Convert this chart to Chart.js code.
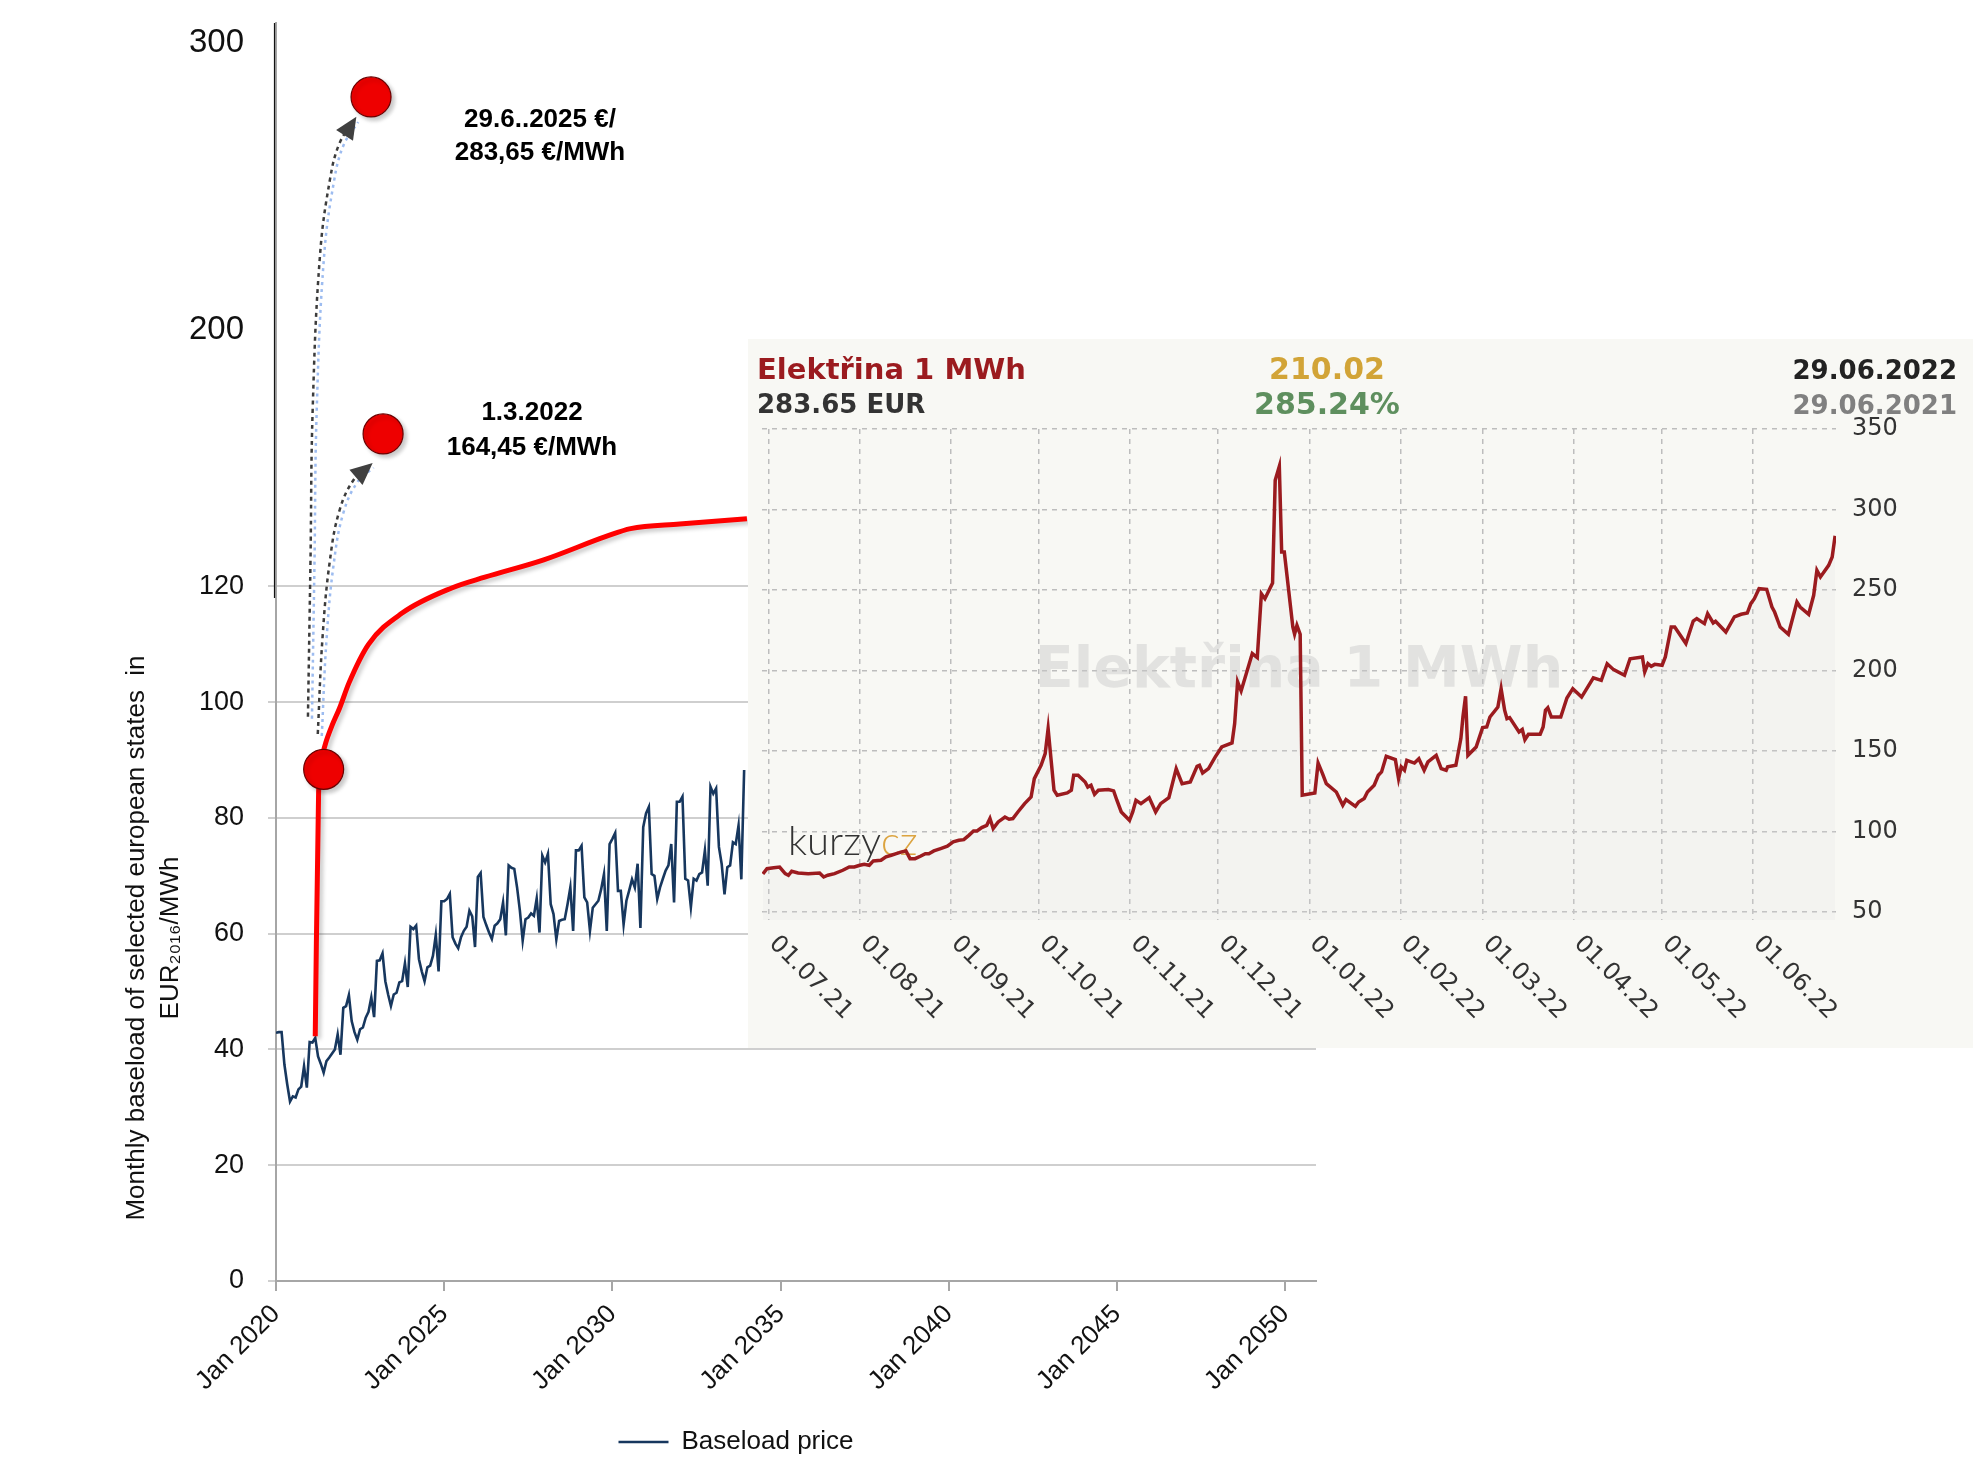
<!DOCTYPE html>
<html>
<head>
<meta charset="utf-8">
<script src="https://cdn.jsdelivr.net/npm/chart.js@4.4.1/dist/chart.umd.min.js"></script>
<style>
  html, body { margin: 0; padding: 0; background: #fff; }
  body { width: 1983px; height: 1465px; position: relative; overflow: hidden; }
  #main { position: absolute; left: 0; top: 0; }
  #insetBox { position: absolute; left: 748px; top: 339px; width: 1225px; height: 709px; background: #f8f8f4; }
</style>
</head>
<body>
<canvas id="main" width="1468" height="1465"></canvas>
<div id="insetBox"><canvas id="inset" width="1225" height="709"></canvas></div>
<script>
// ---- data: main chart (months since Jan 2020) ----
const startYear = 2020;
const yearTicks = [2020, 2025, 2030, 2035, 2040, 2045, 2050];
const mainYTicks = [0, 20, 40, 60, 80, 100, 120, 200, 300];

// monthly baseload price, Jan 2020 .. Dec 2033
const baseloadPrice = [
  42.9, 43.0, 43.0, 37.4, 34.0, 31.0, 31.9, 31.7, 33.1, 33.6, 37.1, 33.4,
  41.3, 41.2, 42.0, 38.8, 37.5, 36.0, 38.0, 38.6, 39.3, 40.0, 42.6, 39.1,
  47.2, 47.5, 49.4, 44.9, 43.0, 41.7, 43.5, 43.8, 45.5, 46.5, 49.0, 45.6,
  55.3, 55.4, 56.6, 51.8, 49.5, 47.5, 49.5, 49.8, 51.6, 51.8, 54.9, 50.8,
  61.2, 60.8, 61.4, 55.6, 53.5, 51.8, 54.2, 54.5, 56.2, 59.8, 53.5, 65.6,
  65.6, 66.0, 66.9, 59.4, 58.3, 57.5, 59.4, 60.5, 61.2, 64.0, 63.0, 57.7,
  69.8, 70.5, 62.9, 61.5, 60.2, 59.1, 61.4, 61.8, 62.5, 65.4, 59.7, 71.8,
  71.4, 71.2, 68.0, 64.0, 58.8, 62.5, 62.8, 63.5, 63.1, 66.1, 60.2, 73.5,
  72.3, 73.8, 65.1, 63.4, 59.0, 62.2, 62.4, 62.5, 65.1, 68.0, 60.5, 74.4,
  74.4, 75.2, 66.3, 65.4, 60.5, 64.5, 65.1, 65.7, 67.7, 70.3, 60.5, 75.5,
  76.4, 77.4, 67.4, 67.4, 61.6, 65.7, 67.5, 69.4, 68.0, 72.1, 61.0, 78.4,
  80.8, 81.9, 70.3, 70.0, 66.0, 68.0, 69.5, 70.9, 71.8, 75.5, 65.4, 82.8,
  82.8, 83.7, 69.5, 69.2, 64.6, 69.5, 69.2, 70.3, 70.6, 74.4, 68.3, 85.4,
  84.2, 85.1, 75.0, 72.0, 66.8, 71.5, 71.8, 75.8, 75.5, 78.7, 69.4, 88.3
];

// hand-drawn red trend curve
const redMonths = [14, 15.2, 16.6, 17.8, 20, 22.7, 26, 33, 45, 62.5, 74.5, 95.5, 118, 126.5, 144, 168];
const redValues = [42.3, 84.5, 90.9, 93.1, 96.0, 99.0, 103.3, 110, 115.4, 119.7, 121.6, 124.6, 128.7, 130, 130.8, 131.7];

// red dots
const dotMonths = [17, 33.9, 38.2];
const dotValues = [88.4, 283.65, 164.45];

// dotted arrows
const arrow1Months = [11.4, 12.3, 13.1, 15.7, 19.3, 22.7, 27.9];
const arrow1Values = [97.5, 124.4, 173.3, 227.1, 254.8, 267.7, 276.0];
const arrow2Months = [14.9, 16.6, 19.2, 22.7, 27.9, 33.4];
const arrow2Values = [94.5, 111.2, 124.4, 134.8, 147.2, 152.5];

// ---- data: inset (days since 01.07.2021) ----
const insetDays = [
  -2, -0.6, 1.7, 3.7, 5.6, 6.7, 7.8, 10, 13.4, 17.3,
  18.7, 20.1, 22.4, 25.2, 27.4, 29.1, 31, 32.5, 34.2, 35.6,
  38.2, 39.9, 41.7, 43.4, 45.2, 46.7, 48.1, 49.8, 51.6, 53.3,
  54.5, 56.2, 58.5, 60.8, 62.8, 64.7, 66.4, 68.1, 69.7, 70.9,
  72.5, 74.2, 75.3, 76.4, 78.1, 80.4, 81.8, 83.1, 84.8, 87.1,
  89.3, 90.4, 92.7, 94.1, 95.1, 95.8, 97.1, 98.2, 101.6, 103,
  103.8, 105.3, 107.7, 108.6, 109.7, 110.9, 112.2, 115.6, 117.4, 118.5,
  120, 122.8, 123.9, 125, 126.7, 129.5, 131.7, 133.4, 136.2, 138.7,
  140.7, 143.5, 145.8, 146.6, 147.7, 149.7, 152, 154.2, 157.7, 158.6,
  159.6, 160.8, 164.6, 166.3, 167.7, 168.9, 171.5, 172.4, 173.8, 174.6,
  175.5, 178.4, 179, 179.8, 180.9, 181.6, 185.9, 187, 188.5, 189.8,
  193.2, 195.4, 196.5, 199.7, 200.8, 202.7, 203.8, 206.1, 207.5, 208.6,
  210.2, 213.3, 214.4, 215.3, 216.4, 217.2, 219.8, 221.3, 223.1, 224.4,
  227.2, 228.9, 230.6, 231.1, 233.9, 235.6, 236.3, 237.2, 238, 240.8,
  243, 244.4, 245.5, 248.2, 249.3, 250.5, 251.3, 252.2, 255.4, 256.5,
  257.4, 258.6, 262.6, 263.6, 264.4, 265.2, 266.4, 269.6, 271.7, 273.7,
  276.7, 280.7, 283.4, 285.4, 287.6, 291.3, 293.2, 297.4, 298.2, 299.3,
  300.4, 301.6, 304.1, 305.2, 307.2, 308.4, 312.2, 314.7, 315.9, 318.5,
  319.6, 321.5, 322.3, 325.8, 328.7, 331, 333.1, 334.3, 335.5, 337.1,
  339.7, 341.5, 342.4, 344.3, 347.1, 350, 351.1, 354, 355.7, 356.8,
  358, 360.8, 362, 363
];
const insetPrice = [
  73.63, 76.9, 77.5, 77.9, 73.8, 72.8, 75.3, 74.2, 73.8, 74.2,
  71.7, 72.8, 73.8, 75.9, 77.9, 77.9, 79.0, 79.6, 79.0, 81.7,
  82.1, 84.2, 85.2, 86.2, 87.3, 87.9, 83.1, 83.1, 84.6, 86.2,
  86.2, 87.9, 89.3, 90.8, 93.5, 94.5, 94.9, 97.6, 100.3, 100.3,
  102.4, 103.8, 108, 101.8, 105.9, 109, 107.6, 108, 112.1, 117.3,
  121.4, 132.8, 141.1, 148.3, 163.9, 150.4, 125.6, 122.5, 123.9, 125.6,
  134.9, 134.9, 130.7, 127.6, 128.7, 123.1, 125.6, 126.0, 125.2, 119.4,
  112.1, 106.9, 112.1, 119.4, 117.3, 121.0, 112.1, 117.3, 121.0, 139.0,
  129.7, 130.7, 140.5, 141.1, 136.3, 139.0, 146.3, 152.5, 155.0, 167.0,
  192.9, 187.3, 210.5, 208.0, 247.7, 244.6, 254.3, 318.1, 326.8, 273.6,
  273.6, 227.0, 222.5, 228.0, 222.5, 122.5, 123.9, 142.5, 135.9, 129.7,
  124.5, 116.3, 119.8, 115.6, 118.3, 120.4, 124.5, 128.7, 134.9, 137.0,
  146.7, 144.6, 132.8, 140.1, 138.0, 144.2, 142.5, 145.2, 138.0, 143.2,
  147.3, 139.0, 138.0, 140.1, 141.1, 157.7, 171.1, 184.0, 147.3, 152.5,
  164.5, 164.9, 171.1, 177.3, 188.7, 175.3, 170.1, 170.7, 161.8, 163.3,
  157.0, 160.4, 160.4, 164.9, 175.3, 176.9, 171.1, 171.1, 182.9, 188.7,
  183.5, 195.5, 193.9, 204.2, 200.5, 197.0, 207.3, 208.4, 199.1, 204.2,
  202.6, 203.8, 203.2, 208.4, 227.0, 227.0, 216.7, 230.7, 232.2, 229.1,
  235.3, 229.5, 230.5, 223.9, 233.3, 234.9, 235.7, 241.5, 244.6, 250.8,
  250.4, 239.4, 236.3, 227.0, 222.5, 242.5, 239.4, 234.9, 246.7, 262.2,
  258.1, 265.3, 270.5, 283.65
];
const insetYTicks = [50, 100, 150, 200, 250, 300, 350];
const insetTitle = 'Elektřina 1 MWh';
const insetLast = '283.65 EUR';
const insetChange = '210.02';
const insetChangePct = '285.24%';
const insetDateTo = '29.06.2022';
const insetDateFrom = '29.06.2021';

// ---- a hand-drawn y scale: linear up to 132, then compressed ----
const LinearScale = Chart.LinearScale || Chart.registry.getScale('linear');
const yStops = [[0, 0], [132, 0.6073], [160, 0.663], [200, 0.756], [280, 0.9316], [306, 1]];
class BrokenScale extends LinearScale {
  getPixelForValue(value) {
    let f = 0;
    for (let i = 1; i < yStops.length; i++) {
      const a = yStops[i - 1], b = yStops[i];
      if (value <= b[0] || i === yStops.length - 1) {
        f = a[1] + (value - a[0]) / (b[0] - a[0]) * (b[1] - a[1]);
        break;
      }
    }
    return this.bottom - f * (this.bottom - this.top);
  }
  getValueForPixel(pixel) {
    const f = (this.bottom - pixel) / (this.bottom - this.top);
    for (let i = 1; i < yStops.length; i++) {
      const a = yStops[i - 1], b = yStops[i];
      if (f <= b[1] || i === yStops.length - 1) {
        return a[0] + (f - a[1]) / (b[1] - a[1]) * (b[0] - a[0]);
      }
    }
    return 0;
  }
}
BrokenScale.id = 'broken';
BrokenScale.defaults = LinearScale.defaults;
Chart.register(BrokenScale);

const SANS = '"Liberation Sans", Arial, sans-serif';
const VERD = '"DejaVu Sans", Verdana, sans-serif';

const pts = (xs, ys) => xs.map((x, i) => ({x: x, y: ys[i]}));

const mainDecor = {
  id: 'mainDecor',
  afterLayout(chart) {
    // legend sits centred under the whole picture, not under the plot
    if (chart.legend) {
      chart.legend.left += 78;
      chart.legend.right += 78;
    }
  },
  beforeDatasetDraw(chart, args) {
    const ds = chart.data.datasets[args.index];
    const ctx = chart.ctx;
    ctx.save();
    if (ds.shift) ctx.translate(ds.shift[0], ds.shift[1]);
    if (ds.shadow) {
      ctx.shadowColor = 'rgba(0,0,0,0.22)';
      ctx.shadowOffsetX = 3;
      ctx.shadowOffsetY = 3;
      ctx.shadowBlur = 4;
    }
  },
  afterDatasetDraw(chart, args) {
    const ctx = chart.ctx;
    ctx.restore();
    const ds = chart.data.datasets[args.index];
    if (ds.arrowHead) {
      const p = chart.getDatasetMeta(args.index).data;
      const a = p[p.length - 2], b = p[p.length - 1];
      const ang = Math.atan2(b.y - a.y, b.x - a.x);
      ctx.save();
      ctx.translate(b.x, b.y);
      ctx.rotate(ang);
      ctx.fillStyle = '#404040';
      ctx.beginPath();
      ctx.moveTo(4, 0);
      ctx.lineTo(-18, -10);
      ctx.lineTo(-18, 10);
      ctx.closePath();
      ctx.fill();
      ctx.restore();
    }
  },
  afterDraw(chart) {
    const ctx = chart.ctx, ys = chart.scales.y;
    // thin black axis above the break
    ctx.save();
    ctx.strokeStyle = '#111';
    ctx.lineWidth = 1.2;
    ctx.beginPath();
    ctx.moveTo(ys.right - 1.5, ys.top);
    ctx.lineTo(ys.right - 1.5, ys.getPixelForValue(118));
    ctx.stroke();
    ctx.restore();
    // axis title
    ctx.save();
    ctx.fillStyle = '#111';
    ctx.font = '26px ' + SANS;
    ctx.textAlign = 'center';
    ctx.textBaseline = 'middle';
    ctx.translate(137, 938);
    ctx.rotate(-Math.PI / 2);
    ctx.fillText('Monthly baseload of selected european states  in', 0, 0);
    ctx.fillText('EUR₂₀₁₆/MWh', 0, 34);
    ctx.restore();
    // annotations
    ctx.save();
    ctx.fillStyle = '#000';
    ctx.font = 'bold 26px ' + SANS;
    ctx.textAlign = 'center';
    ctx.textBaseline = 'middle';
    ctx.fillText('29.6..2025 €/', 540, 120);
    ctx.fillText('283,65 €/MWh', 540, 153);
    ctx.fillText('1.3.2022', 532, 413);
    ctx.fillText('164,45 €/MWh', 532, 448);
    ctx.restore();
  }
};

new Chart(document.getElementById('main').getContext('2d'), {
  type: 'line',
  data: {
    datasets: [
      {
        label: 'Baseload price',
        data: baseloadPrice.map((v, i) => ({x: i, y: v})),
        borderColor: '#17375e',
        backgroundColor: '#17375e',
        borderWidth: 2.6,
        pointRadius: 0,
        order: 4
      },
      {
        label: 'trend',
        data: pts(redMonths, redValues),
        borderColor: '#ff0000',
        borderWidth: 5,
        pointRadius: 0,
        cubicInterpolationMode: 'monotone',
        shadow: true,
        order: 1
      },
      {
        label: 'arrow1 shade',
        data: pts(arrow1Months, arrow1Values),
        borderColor: '#9dbcf0',
        borderWidth: 2.5,
        borderDash: [3, 4],
        pointRadius: 0,
        tension: 0.4,
        shift: [4, 2],
        order: 3
      },
      {
        label: 'arrow2 shade',
        data: pts(arrow2Months, arrow2Values),
        borderColor: '#9dbcf0',
        borderWidth: 2.5,
        borderDash: [3, 4],
        pointRadius: 0,
        tension: 0.4,
        shift: [4, 2],
        order: 3
      },
      {
        label: 'arrow1',
        data: pts(arrow1Months, arrow1Values),
        borderColor: '#3c3c3c',
        borderWidth: 2.5,
        borderDash: [4, 4],
        pointRadius: 0,
        tension: 0.4,
        arrowHead: true,
        order: 2
      },
      {
        label: 'arrow2',
        data: pts(arrow2Months, arrow2Values),
        borderColor: '#3c3c3c',
        borderWidth: 2.5,
        borderDash: [4, 4],
        pointRadius: 0,
        tension: 0.4,
        arrowHead: true,
        order: 2
      },
      {
        label: 'dots',
        data: pts(dotMonths, dotValues),
        showLine: false,
        pointRadius: 20,
        pointBackgroundColor: '#ee0000',
        pointBorderColor: '#6a0000',
        pointBorderWidth: 1.2,
        shadow: true,
        order: 0
      }
    ]
  },
  options: {
    responsive: false,
    animation: false,
    devicePixelRatio: 1,
    layout: {autoPadding: false, padding: {left: 0, right: 152, top: 23, bottom: 0}},
    plugins: {
      legend: {
        position: 'bottom',
        labels: {
          filter: item => item.datasetIndex === 0,
          usePointStyle: true,
          pointStyle: 'line',
          pointStyleWidth: 50,
          font: {family: SANS, size: 26},
          color: '#111',
          padding: 10
        }
      },
      tooltip: {enabled: false}
    },
    scales: {
      x: {
        type: 'linear',
        min: 0,
        max: 371,
        afterBuildTicks: s => { s.ticks = yearTicks.map(y => ({value: (y - startYear) * 12})); },
        afterFit: s => { s.height = 138; },
        grid: {drawOnChartArea: false, color: '#a6a6a6', lineWidth: 2, tickLength: 10},
        border: {color: '#a6a6a6', width: 2},
        ticks: {
          minRotation: 45,
          maxRotation: 45,
          padding: 8,
          font: {family: SANS, size: 26},
          color: '#111',
          callback: v => 'Jan ' + (startYear + v / 12)
        }
      },
      y: {
        type: 'broken',
        min: 0,
        max: 306,
        afterBuildTicks: s => { s.ticks = mainYTicks.map(v => ({value: v})); },
        afterFit: s => { s.width = 276; s.paddingTop = 0; s.paddingBottom = 0; },
        grid: {
          color: c => (c.tick && c.tick.value <= 120) ? '#cfcfcf' : 'rgba(0,0,0,0)',
          lineWidth: 2,
          tickLength: 8
        },
        border: {color: '#a6a6a6', width: 2},
        ticks: {
          padding: 24,
          color: '#111',
          font: c => ({family: SANS, size: (c.tick && c.tick.value > 120) ? 33 : 27})
        }
      }
    }
  },
  plugins: [mainDecor]
});

// ---- inset chart ----
const dayMs = 86400000;
const day0 = Date.UTC(2021, 6, 1);
const monthStarts = [];
for (let k = 0; k < 12; k++) {
  const d = new Date(Date.UTC(2021, 6 + k, 1));
  monthStarts.push({
    value: (d.getTime() - day0) / dayMs,
    label: '01.' + String(d.getUTCMonth() + 1).padStart(2, '0') + '.' + String(d.getUTCFullYear()).slice(2)
  });
}

const insetDecor = {
  id: 'insetDecor',
  beforeDatasetsDraw(chart) {
    const ctx = chart.ctx, a = chart.chartArea;
    ctx.save();
    // watermark
    ctx.font = 'bold 57px ' + VERD;
    ctx.fillStyle = 'rgba(200,200,200,0.45)';
    ctx.textAlign = 'center';
    ctx.textBaseline = 'middle';
    ctx.fillText(insetTitle, (a.left + a.right) / 2, (a.top + a.bottom) / 2 - 2);
    // logo
    ctx.font = '300 40px Lato, ' + SANS;
    ctx.textAlign = 'left';
    ctx.textBaseline = 'alphabetic';
    ctx.fillStyle = '#333';
    ctx.fillText('kurzy', 40, 516);
    const w = ctx.measureText('kurzy').width;
    ctx.fillStyle = '#dca440';
    ctx.fillText('cz', 40 + w, 516);
    ctx.restore();
  },
  afterDraw(chart) {
    const ctx = chart.ctx, a = chart.chartArea, xs = chart.scales.x;
    ctx.save();
    // header
    ctx.textBaseline = 'alphabetic';
    ctx.font = 'bold 29px ' + VERD;
    ctx.textAlign = 'left';
    ctx.fillStyle = '#9b1b1f';
    ctx.fillText(insetTitle, 9, 40);
    ctx.font = 'bold 26px ' + VERD;
    ctx.fillStyle = '#333';
    ctx.fillText(insetLast, 9, 74);
    ctx.textAlign = 'center';
    ctx.font = 'bold 30px ' + VERD;
    ctx.fillStyle = '#d2a437';
    ctx.fillText(insetChange, 579, 40);
    ctx.fillStyle = '#5e8f5e';
    ctx.fillText(insetChangePct, 579, 75);
    ctx.textAlign = 'right';
    ctx.font = 'bold 26px ' + VERD;
    ctx.fillStyle = '#222';
    ctx.fillText(insetDateTo, 1209, 40);
    ctx.fillStyle = '#808080';
    ctx.fillText(insetDateFrom, 1209, 75);
    // rotated month labels
    ctx.font = '24px ' + VERD;
    ctx.fillStyle = '#333';
    ctx.textAlign = 'left';
    ctx.textBaseline = 'middle';
    monthStarts.forEach(t => {
      const x = xs.getPixelForValue(t.value);
      ctx.save();
      ctx.translate(x + 4, a.bottom + 20);
      ctx.rotate(Math.PI / 4);
      ctx.fillText(t.label, 0, 0);
      ctx.restore();
    });
    ctx.restore();
  }
};

new Chart(document.getElementById('inset').getContext('2d'), {
  type: 'line',
  data: {
    datasets: [{
      label: insetTitle,
      data: pts(insetDays, insetPrice),
      borderColor: '#9b1b1f',
      borderWidth: 3.5,
      backgroundColor: 'rgba(220,220,220,0.18)',
      fill: 'start',
      pointRadius: 0,
      tension: 0
    }]
  },
  options: {
    responsive: false,
    animation: false,
    devicePixelRatio: 1,
    layout: {padding: {left: 14, top: 90, right: 0, bottom: 128}},
    plugins: {legend: {display: false}, tooltip: {enabled: false}},
    scales: {
      x: {
        type: 'linear',
        min: -2.3,
        max: 363.3,
        afterBuildTicks: s => { s.ticks = monthStarts.map(t => ({value: t.value})); },
        afterFit: s => { s.height = 0; },
        grid: {color: '#bdbdbd', lineWidth: 1.5, drawTicks: false},
        border: {display: false, dash: [5, 5]},
        ticks: {display: false}
      },
      y: {
        type: 'linear',
        position: 'right',
        min: 45,
        max: 350,
        afterBuildTicks: s => { s.ticks = insetYTicks.map(v => ({value: v})); },
        afterFit: s => { s.width = 137; },
        grid: {color: '#bdbdbd', lineWidth: 1.5, drawTicks: false},
        border: {display: false, dash: [5, 5]},
        ticks: {padding: 16, color: '#333', font: {family: VERD, size: 24}}
      }
    }
  },
  plugins: [insetDecor]
});
</script>
</body>
</html>
